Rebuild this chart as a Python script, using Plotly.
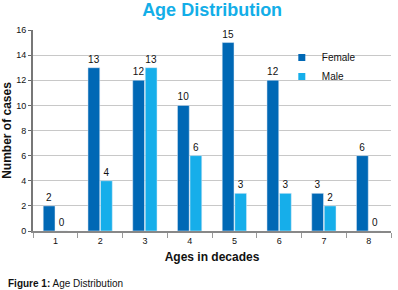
import plotly.graph_objects as go

categories = ["1", "2", "3", "4", "5", "6", "7", "8"]
female = [2, 13, 12, 10, 15, 12, 3, 6]
male = [0, 4, 13, 6, 3, 3, 2, 0]
y_ticks = [0, 2, 4, 6, 8, 10, 12, 14, 16]

FONT = "Liberation Sans, Arial, sans-serif"
C_F = "#0068b5"
C_M = "#16aeea"

fig = go.Figure()
fig.add_trace(go.Bar(name="Female", x=categories, y=female, marker_color=C_F,
                     text=female, textposition="outside", cliponaxis=False, showlegend=False,
                     textfont=dict(size=10, color="#111")))
fig.add_trace(go.Bar(name="Male", x=categories, y=male, marker_color=C_M,
                     text=male, textposition="outside", cliponaxis=False, showlegend=False,
                     textfont=dict(size=10, color="#111")))
for name, col in (("Female", C_F), ("Male", C_M)):
    fig.add_trace(go.Scatter(name=name, x=[None], y=[None], mode="markers",
                             marker=dict(symbol="square", size=7, color=col), showlegend=True))

fig.update_layout(
    width=398, height=290,
    margin=dict(l=33, r=7, t=30, b=59),
    paper_bgcolor="white", plot_bgcolor="white",
    font=dict(family=FONT, size=9, color="#111"),
    barmode="group", bargap=0.44, bargroupgap=0.06,
    title=dict(text="<b>Age Distribution</b>", x=0.533, xanchor="center", y=0.99, yanchor="top",
               pad=dict(t=0, b=0), font=dict(size=18, color="#13aee8", family=FONT)),
    legend=dict(x=0.695, y=0.935, xanchor="left", yanchor="top", bgcolor="rgba(0,0,0,0)",
                font=dict(size=10, color="#111"), itemwidth=30, tracegroupgap=0),
    showlegend=True,
    uniformtext=dict(minsize=9, mode="show"),
)
fig.update_xaxes(
    type="category", tickson="boundaries", ticks="outside", ticklen=5, tickcolor="#999",
    showline=True, linecolor="#888", linewidth=1.5, showgrid=False, automargin=False,
    tickfont=dict(size=9, color="#111"),
    title=dict(text="<b>Ages in decades</b>", font=dict(size=12, color="#111"), standoff=8),
)
fig.update_yaxes(
    range=[0, 16], tickvals=y_ticks, ticks="outside", ticklen=3, tickcolor="#666",
    showline=True, linecolor="#777", linewidth=2, showgrid=True, gridcolor="#c8c8c8",
    gridwidth=1, zeroline=False, tickfont=dict(size=9, color="#111"), automargin=False,
    title=dict(text="<b>Number of cases</b>", font=dict(size=12, color="#111"), standoff=4),
)
fig.add_annotation(text="<b>Figure 1:</b> Age Distribution", xref="paper", yref="paper",
                   x=-0.075, y=-0.26, xanchor="left", yanchor="middle", showarrow=False,
                   font=dict(size=10, color="#111", family=FONT))

fig.write_html("out.html", config={"displayModeBar": False},
               post_script="document.body.style.margin='0px';")
